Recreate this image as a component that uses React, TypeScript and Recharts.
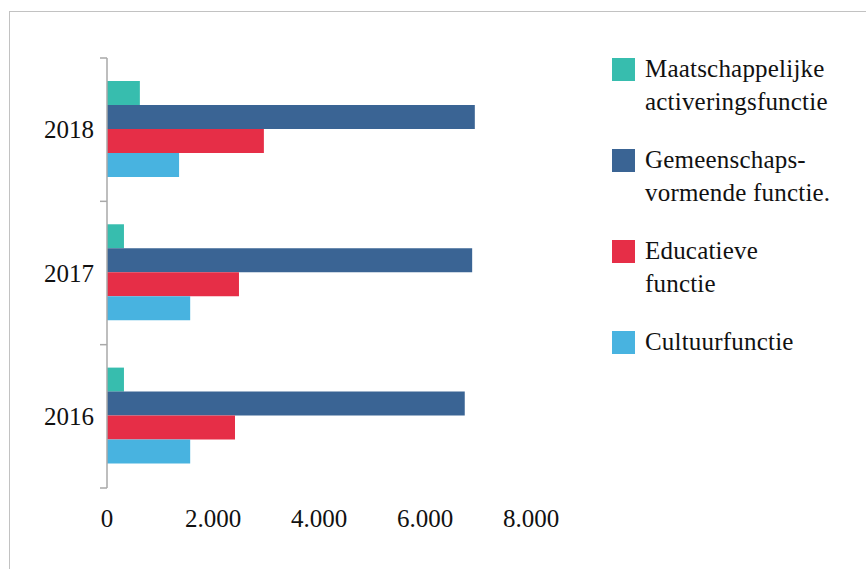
import { BarChart, Bar, XAxis, YAxis } from 'recharts';

const years = ['2018', '2017', '2016'];
const maatschappelijk = [620, 320, 320];
const gemeenschap = [6940, 6890, 6750];
const educatief = [2960, 2490, 2415];
const cultuur = [1360, 1570, 1570];
const xTicks = [0, 2000, 4000, 6000, 8000];

const series = [
  { key: 'maat', label: ['Maatschappelijke', 'activeringsfunctie'], color: '#37bdae' },
  { key: 'gem', label: ['Gemeenschaps-', 'vormende functie.'], color: '#3a6494' },
  { key: 'edu', label: ['Educatieve', 'functie'], color: '#e62e47' },
  { key: 'cul', label: ['Cultuurfunctie'], color: '#48b3e0' },
];

const data = years.map((y, i) => ({
  year: y,
  maat: maatschappelijk[i],
  gem: gemeenschap[i],
  edu: educatief[i],
  cul: cultuur[i],
}));

const W = 866;
const H = 569;
const X_AXIS_H = 30;
const margin = { top: 58, right: 335, bottom: 51, left: 0 };
const band = (H - margin.top - margin.bottom - X_AXIS_H) / years.length;
const font = "'Liberation Serif', 'DejaVu Serif', serif";
const gray = '#a9a9a9';

// category ticks sit at the band edges, label in the middle
const YearTick = (props: any) => {
  const { y, payload, index } = props;
  const ax = 107;
  return (
    <g>
      <line x1={ax - 7} x2={ax} y1={y - band / 2} y2={y - band / 2} stroke={gray} strokeWidth={1.5} />
      {index === years.length - 1 && (
        <line x1={ax - 7} x2={ax} y1={y + band / 2} y2={y + band / 2} stroke={gray} strokeWidth={1.5} />
      )}
      <text x={ax - 13} y={y} dy="0.35em" textAnchor="end" fill="#111" fontSize={25} style={{ fontFamily: font }}>
        {payload.value}
      </text>
    </g>
  );
};

const LegendBox = () => (
  <div style={{ position: 'absolute', top: 52, left: 612, width: 254, fontFamily: font, fontSize: 25, lineHeight: '33px', color: '#111' }}>
    {series.map(s => (
      <div key={s.key} style={{ display: 'flex', height: 91 }}>
        <div style={{ width: 23, height: 23, background: s.color, marginTop: 6, marginRight: 10, flex: 'none' }} />
        <div style={{ letterSpacing: 0.2, whiteSpace: 'nowrap' }}>
          {s.label.map(l => <div key={l}>{l}</div>)}
        </div>
      </div>
    ))}
  </div>
);

export default function App() {
  return (
    <div style={{ position: 'absolute', top: 0, left: 0, width: W, height: H, overflow: 'hidden', background: '#fff', fontFamily: font }}>
      <div style={{ position: 'absolute', left: 9, top: 11, width: 1000, height: 1000, border: '1.5px solid #c2c2c2' }} />
      <BarChart
        width={W}
        height={H}
        data={data}
        layout="vertical"
        margin={margin}
        barCategoryGap="16%"
        barGap={0}
        style={{ fontFamily: font }}
      >
        <XAxis
          type="number"
          domain={[0, 8000]}
          ticks={xTicks}
          height={X_AXIS_H}
          axisLine={false}
          tickLine={false}
          tickMargin={15}
          tickFormatter={(v: number) => v.toLocaleString('nl-NL')}
          tick={{ fill: '#111', fontSize: 25, style: { fontFamily: font } }}
        />
        <YAxis
          type="category"
          dataKey="year"
          width={107}
          axisLine={{ stroke: gray, strokeWidth: 1.5 }}
          tickLine={false}
          tick={<YearTick />}
        />
        {series.map(s => (
          <Bar key={s.key} dataKey={s.key} fill={s.color} isAnimationActive={false} />
        ))}
      </BarChart>
      <LegendBox />
    </div>
  );
}
